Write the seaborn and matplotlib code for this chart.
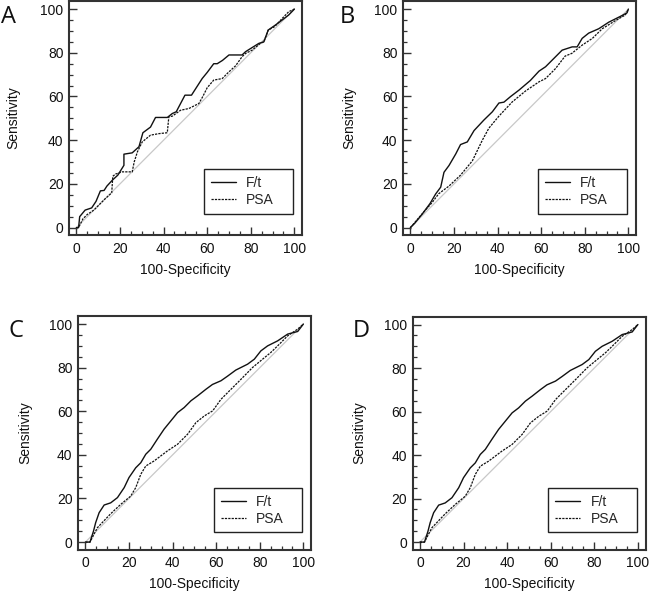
import matplotlib
matplotlib.use("Agg")
import matplotlib.pyplot as plt
import seaborn as sns
from matplotlib.ticker import MultipleLocator

# ---------------- data ----------------
A_ft_x = [0, 1, 1.5, 4, 7, 9, 11, 12.7, 14, 16.5, 19, 21.8, 21.8, 25.6, 28.7, 30.5, 34, 36.3, 41.7, 44, 45.8,
          49.8, 52.8, 57.7, 60, 63, 64.6, 67, 70, 76, 77.6, 80, 83.7, 86, 88, 91.3, 94.4, 97.4, 100]
A_ft_y = [0, 0, 5, 8, 9, 12, 16.8, 17, 19, 21.7, 24, 28.5, 33.6, 34.2, 37, 43.4, 46, 50.4, 50.4, 52.2, 53,
          60.6, 60.6, 68.2, 71, 75, 75, 76.5, 79, 79, 80.5, 82, 84.3, 85, 90.4, 92.7, 95, 97.3, 100]
A_psa_x = [0, 1, 3, 5, 8, 10, 13, 16.2, 16.7, 18, 21, 25.6, 26.5, 28, 30.2, 34, 37.9, 41.7, 42.4, 44, 47.8,
           51.6, 56.2, 58, 60, 63, 66.9, 70, 73, 76, 77.6, 80.6, 84.4, 86, 88, 91, 94.4, 97.4, 100]
A_psa_y = [0, 0, 4, 6, 8, 10, 13, 15.9, 23.5, 24.5, 25.5, 25.5, 30, 34.7, 39.2, 42.3, 43, 43.4, 50.7, 51, 53.7,
           54.5, 56.8, 60, 64, 67.5, 68.2, 71.3, 74, 78.2, 79.7, 81.2, 84.3, 85, 90.4, 92, 95.7, 98.8, 100]

B_ft_x = [0, 2, 5.5, 9, 11.6, 13.9, 15.4, 17.7, 20.8, 23, 26.1, 29.2, 33.7, 37.6, 40.6, 42.9, 46, 49.8, 55,
          59, 62, 65, 69.6, 74.2, 76.5, 78.8, 81.8, 86.4, 91, 97, 99.4, 100]
B_ft_y = [0, 2, 6.3, 11, 15.4, 18.5, 25.3, 28.4, 33.7, 38, 39.2, 44.4, 49.2, 53, 57, 57.4, 60, 62.9, 67.3,
          71.6, 73.6, 76.6, 81.2, 82.7, 82.7, 86.6, 89, 91, 94, 97, 98.3, 100]
B_psa_x = [0, 3, 6, 10, 13, 17.7, 23, 28.4, 33, 36, 40.6, 46.7, 52.8, 59, 62, 66.6, 71, 74, 78.8, 83.5, 88,
           94, 98.6, 100]
B_psa_y = [0, 3.5, 7, 11.5, 15.5, 19, 24, 30.5, 40, 45.5, 51, 57.5, 62.5, 66.7, 68.2, 72.8, 78.5, 79.7, 83.5,
           86.6, 91, 94.7, 97.3, 100]

C_ft_x = [0, 1, 2.1, 3.7, 4.7, 6.3, 8.6, 11.6, 14.7, 17.8, 20, 23.1, 25.4, 27.7, 30, 33, 36.1, 39.2, 42.3,
          45.3, 48.4, 51.5, 55.3, 58.3, 62.2, 65.2, 69, 74.4, 77.5, 80.5, 83.6, 88.2, 92.8, 97.4, 100]
C_ft_y = [0, 0, 0, 5, 8.9, 13.5, 17, 18, 20.4, 25, 29.6, 34.1, 36.4, 40.3, 42.6, 47.2, 51.8, 55.6, 59.4,
          61.7, 64.8, 67.1, 70.1, 72.3, 74, 76.1, 78.9, 81.6, 83.9, 87.7, 90, 92.3, 95.4, 96.6, 100]
C_psa_x = [0, 2.1, 5.5, 11.6, 16.2, 20.8, 23.1, 25.4, 27.7, 31.5, 37.6, 42.3, 46.9, 50.7, 54.6, 58.4, 62.2,
           66.8, 71.4, 76.7, 81.3, 85.1, 88.2, 92.8, 97.4, 100]
C_psa_y = [0, 0, 6.6, 13, 17.3, 21.1, 25, 31.1, 34.9, 37.2, 41.8, 44.9, 49.5, 54.8, 57.9, 60.2, 65.5, 70.1,
           74.7, 80.1, 83.9, 87, 90, 94.6, 97.7, 100]

# panel D shows the same curves as panel C
D_ft_x, D_ft_y = C_ft_x, C_ft_y
D_psa_x, D_psa_y = C_psa_x, C_psa_y

series_labels = ["F/t", "PSA"]
panel_letters = ["A", "B", "C", "D"]
ticks = [0, 20, 40, 60, 80, 100]
x_title = "100-Specificity"
y_title = "Sensitivity"

# ---------------- style ----------------
sns.set_style("ticks")
plt.rcParams["font.family"] = ["Liberation Sans", "DejaVu Sans"]

W, H = 651, 594
fig = plt.figure(figsize=(W / 100, H / 100), dpi=100)


def px_axes(l, r, t, b):
    return fig.add_axes([l / W, 1 - b / H, (r - l) / W, (b - t) / H])


panels = [
    dict(box=(69, 302, 1, 235), ft=(A_ft_x, A_ft_y), psa=(A_psa_x, A_psa_y),
         ylab_x=-0.208, leg=(0.579, 0.091), letter=(1.0, 23.3)),
    dict(box=(403, 636, 1, 235), ft=(B_ft_x, B_ft_y), psa=(B_psa_x, B_psa_y),
         ylab_x=-0.2, leg=(0.579, 0.091), letter=(340, 23.3)),
    dict(box=(78, 311, 316, 549.5), ft=(C_ft_x, C_ft_y), psa=(C_psa_x, C_psa_y),
         ylab_x=-0.195, leg=(0.582, 0.073), letter=(8.5, 336.7)),
    dict(box=(412.5, 645.5, 316.5, 549.5), ft=(D_ft_x, D_ft_y), psa=(D_psa_x, D_psa_y),
         ylab_x=-0.198, leg=(0.582, 0.073), letter=(353, 336.7)),
]

for letter, p in zip(panel_letters, panels):
    ax = px_axes(*p["box"])
    # reference diagonal
    sns.lineplot(x=[0, 100], y=[0, 100], ax=ax, color="#c8c8c8", lw=0.9,
                 estimator=None, sort=False, legend=False)
    sns.lineplot(x=p["ft"][0], y=p["ft"][1], ax=ax, color="#111111", lw=1.0,
                 estimator=None, sort=False, label=series_labels[0])
    sns.lineplot(x=p["psa"][0], y=p["psa"][1], ax=ax, color="#111111", lw=0.9,
                 linestyle=(0, (1.8, 0.9)), estimator=None, sort=False, label=series_labels[1])

    ax.set_xlim(-3.4, 103.5)
    ax.set_ylim(-3.4, 103.7)
    ax.set_xticks(ticks)
    ax.set_yticks(ticks)
    ax.xaxis.set_minor_locator(MultipleLocator(5))
    ax.yaxis.set_minor_locator(MultipleLocator(5))
    ax.tick_params(which="major", direction="in", length=5.5, width=1.0, color="#333333",
                   labelsize=10, labelcolor="#111111", top=False, right=False)
    ax.tick_params(axis="y", which="major", pad=4)
    ax.tick_params(axis="x", which="major", pad=5)
    ax.tick_params(which="minor", direction="in", length=2.6, width=0.9, color="#333333",
                   top=False, right=False)
    for s in ax.spines.values():
        s.set_visible(True)
        s.set_color("#333333")
        s.set_linewidth(1.5)

    ax.set_xlabel(x_title, fontsize=10, color="#111111")
    ax.set_ylabel(y_title, fontsize=10, color="#111111")
    ax.xaxis.set_label_coords(0.5, -0.118)
    ax.yaxis.set_label_coords(p["ylab_x"], 0.5)

    lx0, ly0 = p["leg"]
    leg = ax.legend(loc="lower left", bbox_to_anchor=(lx0, ly0, 0.381, 0.18), mode="expand",
                    frameon=True, fancybox=False,
                    edgecolor="#222222", framealpha=1, fontsize=10, handlelength=1.8,
                    handletextpad=0.75, labelspacing=0.2, borderpad=0.5, borderaxespad=0)
    leg.get_frame().set_linewidth(1.0)

    lx, ly = p["letter"]
    fig.text(lx / W, 1 - ly / H, letter, fontsize=17, family=["Open Sans", "DejaVu Sans"],
             ha="left", va="baseline", color="#111111")

fig.savefig("out.png", dpi=100)
